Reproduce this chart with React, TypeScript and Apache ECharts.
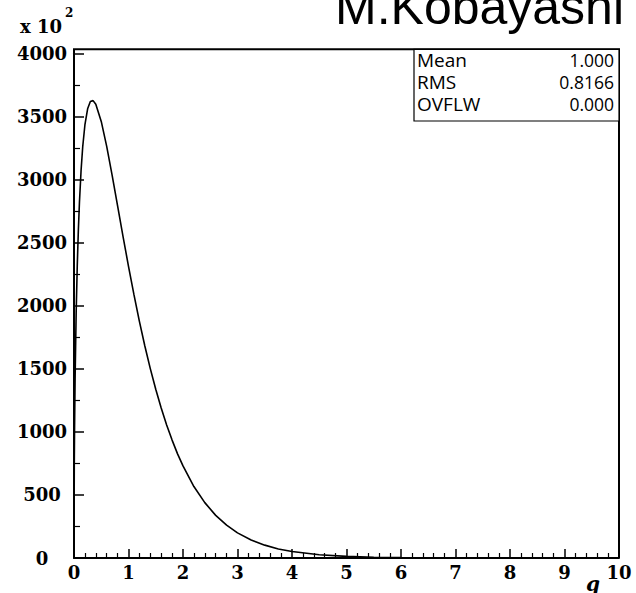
import React, { useEffect, useRef } from "react";
import * as echarts from "echarts";

const qValues = [0, 0.005, 0.01, 0.02, 0.04, 0.06, 0.08, 0.1, 0.13, 0.16, 0.2, 0.25, 0.3, 0.35, 0.4, 0.5, 0.6, 0.7, 0.8, 0.9, 1.0, 1.1, 1.2, 1.3, 1.4, 1.5, 1.6, 1.7, 1.8, 1.9, 2.0, 2.2, 2.4, 2.6, 2.8, 3.0, 3.25, 3.5, 3.75, 4.0, 4.5, 5.0, 5.5, 6.0, 6.5];
const counts = [0, 730, 1021, 1422, 1952, 2320, 2600, 2821, 3075, 3261, 3434, 3562, 3620, 3627, 3598, 3462, 3264, 3035, 2792, 2549, 2313, 2088, 1877, 1681, 1502, 1338, 1189, 1055, 935, 826, 730, 567, 439, 338, 260, 199, 143, 102, 72, 51, 26, 13, 6, 3, 1];

const statLabels = ["Mean", "RMS", "OVFLW"];
const statValues = ["1.000", "0.8166", "0.000"];
const titleText = "M.Kobayashi";
const xName = "q";

const SERIF = "'DejaVu Serif', 'Liberation Serif', serif";
const SANS = "'Liberation Sans', Arial, sans-serif";
const STAT = "'Open Sans', 'Liberation Sans', sans-serif";

export default function App() {
  const ref = useRef<HTMLDivElement>(null);
  useEffect(() => {
    if (!ref.current) return;
    const chart = echarts.init(ref.current, null, { renderer: "svg" });
    const data = qValues.map((q, i) => [q, counts[i]]);
    const gl = 74, gr = 619, gb = 558, gtop = 53.6, ftop = 49.3;
    const statTexts: any[] = [];
    statLabels.forEach((s, i) => {
      statTexts.push({
        type: "text", x: 417, y: 59.5 + i * 22.2,
        style: { text: s, font: `19px ${STAT}`, lineHeight: 20, fill: "#000", textAlign: "left", textVerticalAlign: "middle" },
      });
      statTexts.push({
        type: "text", x: 614, y: 59.5 + i * 22.2,
        style: { text: statValues[i], font: `17.5px ${STAT}`, lineHeight: 20, fill: "#000", textAlign: "right", textVerticalAlign: "middle" },
      });
    });
    chart.setOption({
      animation: false,
      grid: { left: gl, right: 636 - gr, top: gtop, bottom: 593 - gb, containLabel: false },
      xAxis: {
        type: "value", min: 0, max: 10, interval: 1,
        axisLine: { lineStyle: { color: "#000", width: 2 } },
        axisTick: { inside: true, length: 9, lineStyle: { color: "#000", width: 1.5 } },
        minorTick: { show: true, splitNumber: 5, length: 5, lineStyle: { color: "#000", width: 1.2 } },
        splitLine: { show: false },
        axisLabel: { color: "#000", fontFamily: SERIF, fontWeight: "bold", fontSize: 18, margin: 5, formatter: (v: number) => String(v) },
      },
      yAxis: {
        type: "value", min: 0, max: 4000, interval: 500,
        axisLine: { show: true, lineStyle: { color: "#000", width: 2 } },
        axisTick: { show: true, inside: true, length: 10, lineStyle: { color: "#000", width: 1.5 } },
        minorTick: { show: true, splitNumber: 2, length: 6, lineStyle: { color: "#000", width: 1.2 } },
        splitLine: { show: false },
        axisLabel: { color: "#000", fontFamily: SERIF, fontWeight: "bold", fontSize: 18, margin: 32, align: "center", padding: [0, 0, 6, 0], formatter: (v: number) => String(v) },
      },
      graphic: [
        {
          type: "polyline", silent: true,
          shape: { points: [[gl, gtop], [gl, ftop], [gr, ftop], [gr, gb]] },
          style: { stroke: "#000", lineWidth: 2, fill: null },
        },
        {
          type: "rect", shape: { x: 414, y: ftop, width: gr - 414, height: 121 - ftop },
          style: { fill: "#fff", stroke: "#000", lineWidth: 1.2 }, z: 10,
        },
        ...statTexts.map((t) => ({ ...t, z: 11 })),
        {
          type: "text", x: 335, y: -18,
          style: { text: titleText, font: `50px ${SANS}`, fill: "#000", textAlign: "left" },
        },
        {
          type: "text", x: 20, y: 7,
          style: {
            text: "{b|x 10}{s|2}",
            rich: {
              b: { font: `bold 18px ${SERIF}`, fill: "#000", verticalAlign: "bottom", padding: [10, 0, 0, 0] },
              s: { font: `bold 12px ${SERIF}`, fill: "#000", verticalAlign: "top", padding: [0, 0, 0, 3] },
            },
          },
        },
        {
          type: "text", x: 586, y: 574,
          style: { text: xName, font: `italic bold 20px ${SERIF}`, fill: "#000" },
        },
      ],
      series: [
        {
          type: "line", data, showSymbol: false, smooth: false,
          lineStyle: { color: "#000", width: 1.6 }, z: 5,
        },
      ],
    });
    return () => chart.dispose();
  }, []);
  return <div ref={ref} style={{ position: "absolute", left: 0, top: 0, width: 636, height: 593, background: "#fff" }} />;
}
